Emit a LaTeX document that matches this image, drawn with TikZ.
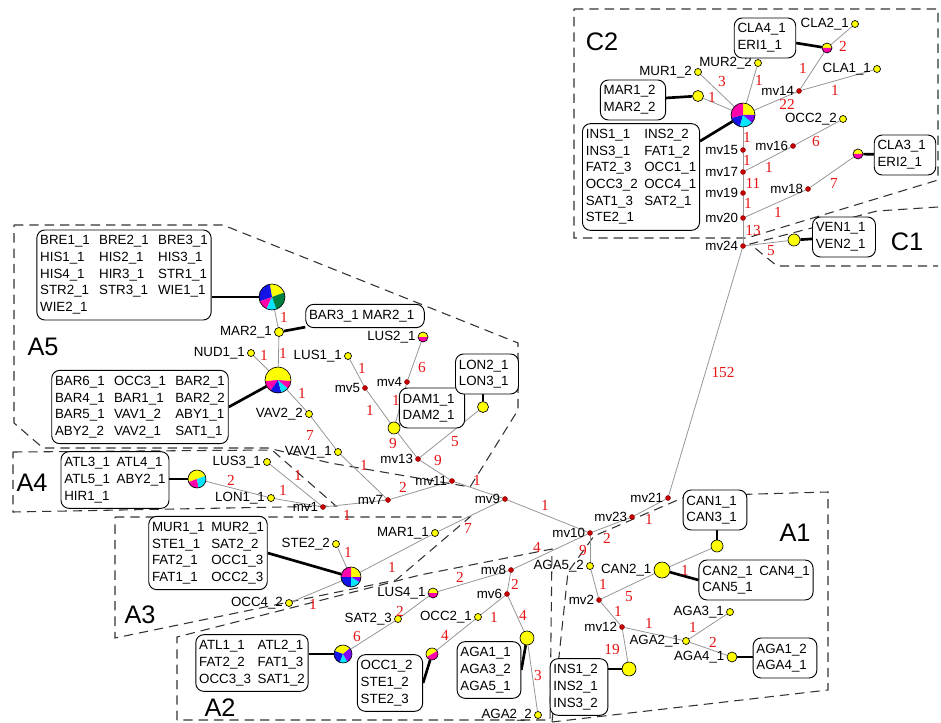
\documentclass[tikz,border=0pt]{standalone}
\usepackage{fontspec}
\setmainfont{Liberation Sans}
\newfontfamily\numfont{Liberation Serif}
\usetikzlibrary{backgrounds}
\definecolor{pyel}{RGB}{255,255,0}
\definecolor{ppink}{RGB}{255,0,170}
\definecolor{pcyan}{RGB}{0,230,255}
\definecolor{pblue}{RGB}{20,20,230}
\definecolor{ppurp}{RGB}{130,0,255}
\definecolor{pgreen}{RGB}{0,128,64}
\definecolor{mvred}{RGB}{200,0,0}
\definecolor{elabred}{RGB}{230,20,20}
\definecolor{edgegrey}{RGB}{150,150,150}
\definecolor{grpgrey}{RGB}{50,50,50}
\newcommand\piefill[3]{%
 \foreach \pc/\pa/\pb in {#3}{\fill[\pc] (#1.center) -- ++({-\pa}:#2) arc[start angle={-\pa}, end angle={-\pb}, radius=#2] -- cycle;}%
 \draw[line width=0.5pt] (#1.center) circle[radius=#2];}
\newcommand\bxA[1]{\begin{tabular}{@{}l@{\hspace{5pt}}l@{}}#1\end{tabular}}
\newcommand\bxB[1]{\begin{tabular}{@{}l@{\hspace{7pt}}l@{\hspace{7pt}}l@{}}#1\end{tabular}}
\tikzset{
 mv/.style={circle, fill=mvred, draw=mvred!60!black, line width=0.3pt, inner sep=0pt, minimum size=3.75pt},
 hap/.style={circle, fill=pyel, draw=black, line width=0.5pt, inner sep=0pt, minimum size=5.25pt},
 pienode/.style={circle, inner sep=0pt, minimum size=#1},
 lab/.style={font=\fontsize{10}{12}\selectfont, inner sep=1pt},
 elab/.style={font=\numfont\fontsize{11.5}{12}\selectfont, text=elabred, inner sep=0pt},
 hbox/.style={draw=black, line width=0.7pt, rounded corners=6pt, fill=white, inner sep=2.5pt, font=\fontsize{10}{12.5}\selectfont},
 ed/.style={draw=edgegrey, line width=0.6pt},
 conn/.style={draw=black, line width=2pt},
 grp/.style={draw=grpgrey, line width=0.8pt, dash pattern=on 7pt off 4.5pt},
 grplab/.style={font=\fontsize{19}{19}\selectfont, inner sep=0pt},
 label distance=0.5pt
}
\begin{document}
\begin{tikzpicture}[x=0.75pt,y=-0.75pt]
\useasboundingbox (0,0) rectangle (941,723);
% ---------- C2 / C1 ----------
\node[pienode=18pt] (c2pie) at (743,115) {};
\node[hap, label={[lab]left:MUR1\_2}] (mur12) at (698,72) {};
\node[hap, label={[lab]left:MUR2\_2}] (mur22) at (758,63) {};
\node[hap, minimum size=8.25pt] (marC) at (698,96) {};
\node[pienode=7.5pt] (claN) at (827,48) {};
\node[hap, label={[lab]left:CLA2\_1}] (cla21) at (855,24) {};
\node[hap, label={[lab]left:CLA1\_1}] (cla11) at (877,69) {};
\node[mv, label={[lab]left:mv14}] (mv14) at (799,91) {};
\node[hap, label={[lab]left:OCC2\_2}] (occ22) at (843,119) {};
\node[mv, label={[lab]left:mv16}] (mv16) at (793,146) {};
\node[mv, label={[lab]left:mv15}] (mv15) at (743,150) {};
\node[mv, label={[lab]left:mv17}] (mv17) at (743,172) {};
\node[mv, label={[lab]left:mv19}] (mv19) at (743,193) {};
\node[mv, label={[lab]left:mv20}] (mv20) at (743,218) {};
\node[mv, label={[lab]left:mv24}] (mv24) at (743,246) {};
\node[mv, label={[lab]left:mv18}] (mv18) at (808,189) {};
\node[pienode=7.5pt] (cla3N) at (858,154) {};
\node[hap, minimum size=9pt] (venN) at (794,240) {};
\node[hbox] (bMAR12) at (633,100) {\bxA{MAR1\_2\\MAR2\_2}};
\node[hbox] (bCLA4) at (765,38) {\bxA{CLA4\_1\\ERI1\_1}};
\node[hbox] (bINS1) at (641,177) {\bxA{INS1\_1 & INS2\_2\\INS3\_1 & FAT1\_2\\FAT2\_3 & OCC1\_1\\OCC3\_2 & OCC4\_1\\SAT1\_3 & SAT2\_1\\STE2\_1 &}};
\node[hbox] (bCLA3) at (905,155) {\bxA{CLA3\_1\\ERI2\_1}};
\node[hbox] (bVEN) at (844,237) {\bxA{VEN1\_1\\VEN2\_1}};
\node[grplab] (gC2) at (602,42) {C2};
\node[grplab] (gC1) at (907,242) {C1};
% ---------- A5 ----------
\node[pienode=19.5pt] (big1) at (272,297) {};
\node[hap, minimum size=6.75pt, label={[lab]left:MAR2\_1}] (mar21) at (279,332) {};
\node[hap, label={[lab]left:NUD1\_1}] (nud11) at (251,353) {};
\node[pienode=19.5pt] (big2) at (278,380) {};
\node[hap, label={[lab]left:LUS1\_1}] (lus11) at (348,356) {};
\node[hap, label={[lab]left:VAV2\_2}] (vav22) at (309,414) {};
\node[hap, label={[lab]left:VAV1\_1}] (vav11) at (338,452) {};
\node[mv, label={[lab]left:mv7}] (mv7) at (388,500) {};
\node[pienode=7.5pt, label={[lab]left:LUS2\_1}] (lus21) at (423,337) {};
\node[mv, label={[lab]left:mv4}] (mv4) at (407,382) {};
\node[mv, label={[lab]left:mv5}] (mv5) at (365,388) {};
\node[hap, minimum size=9pt] (damN) at (394,428) {};
\node[hap, minimum size=8.25pt] (lonN) at (483,407) {};
\node[mv, label={[lab]left:mv13}] (mv13) at (418,459) {};
\node[mv, label={[lab]left:mv11}] (mv11) at (452,481) {};
\node[mv, label={[lab]left:mv9}] (mv9) at (505,499) {};
\node[hbox] (bBRE) at (124,275) {\bxB{BRE1\_1 & BRE2\_1 & BRE3\_1\\HIS1\_1 & HIS2\_1 & HIS3\_1\\HIS4\_1 & HIR3\_1 & STR1\_1\\STR2\_1 & STR3\_1 & WIE1\_1\\WIE2\_1 & &}};
\node[hbox] (bBAR3) at (365,316) {\bxA{BAR3\_1 MAR2\_1}};
\node[hbox] (bBAR6) at (140,407) {\bxB{BAR6\_1 & OCC3\_1 & BAR2\_1\\BAR4\_1 & BAR1\_1 & BAR2\_2\\BAR5\_1 & VAV1\_2 & ABY1\_1\\ABY2\_2 & VAV2\_1 & SAT1\_1}};
\node[hbox] (bDAM) at (432,408) {\bxA{DAM1\_1\\DAM2\_1}};
\node[hbox] (bLON) at (487,374) {\bxA{LON2\_1\\LON3\_1}};
\node[grplab] (gA5) at (43,347) {A5};
% ---------- A4 ----------
\node[pienode=13.5pt] (a4pie) at (197,479) {};
\node[hap, label={[lab]left:LUS3\_1}] (lus31) at (267,462) {};
\node[hap, label={[lab]left:LON1\_1}] (lon11) at (271,498) {};
\node[mv, label={[lab]left:mv1}] (mv1) at (323,507) {};
\node[hbox] (bATL3) at (115,480) {\bxA{ATL3\_1 & ATL4\_1\\ATL5\_1 & ABY2\_1\\HIR1\_1 &}};
\node[grplab] (gA4) at (32,483) {A4};
% ---------- A3 ----------
\node[pienode=15pt] (a3pie) at (351,577) {};
\node[hap, label={[lab]left:STE2\_2}] (ste22) at (336,544) {};
\node[hap, label={[lab]left:MAR1\_1}] (mar11) at (435,533) {};
\node[hap, label={[lab]left:OCC4\_2}] (occ42) at (289,603) {};
\node[hbox] (bMUR11) at (208,553) {\bxA{MUR1\_1 & MUR2\_1\\STE1\_1 & SAT2\_2\\FAT2\_1 & OCC1\_3\\FAT1\_1 & OCC2\_3}};
\node[grplab] (gA3) at (140,615) {A3};
% ---------- A2 ----------
\node[mv, label={[lab]left:mv8}] (mv8) at (511,570) {};
\node[mv, label={[lab]left:mv10}] (mv10) at (590,533) {};
\node[pienode=7.5pt, label={[lab]left:LUS4\_1}] (lus41) at (433,593) {};
\node[hap, label={[lab]left:SAT2\_3}] (sat23) at (398,619) {};
\node[pienode=13.5pt] (a2pie) at (343,654) {};
\node[mv, label={[lab]left:mv6}] (mv6) at (507,594) {};
\node[hap, label={[lab]left:OCC2\_1}] (occ21) at (478,617) {};
\node[pienode=9pt] (occN) at (432,654) {};
\node[hap, minimum size=10.5pt] (agaN) at (527,638) {};
\node[hap, label={[lab]left:AGA2\_2}] (aga22) at (538,715) {};
\node[hbox] (bATL1) at (252,663) {\bxA{ATL1\_1 & ATL2\_1\\FAT2\_2 & FAT1\_3\\OCC3\_3 & SAT1\_2}};
\node[hbox] (bOCC12) at (390,683) {\bxA{OCC1\_2\\STE1\_2\\STE2\_3}};
\node[hbox] (bAGA11) at (489,670) {\bxA{AGA1\_1\\AGA3\_2\\AGA5\_1}};
\node[grplab] (gA2) at (220,708) {A2};
% ---------- A1 ----------
\node[mv, label={[lab]left:mv21}] (mv21) at (668,498) {};
\node[mv, label={[lab]left:mv23}] (mv23) at (632,517) {};
\node[hap, label={[lab]left:AGA5\_2}] (aga52) at (590,566) {};
\node[hap, minimum size=12pt, label={[lab]left:CAN2\_1}] (can2N) at (662,570) {};
\node[hap, minimum size=9pt] (canTopN) at (717,546) {};
\node[mv, label={[lab]left:mv2}] (mv2) at (599,600) {};
\node[mv, label={[lab]left:mv12}] (mv12) at (622,627) {};
\node[hap, label={[lab]left:AGA2\_1}] (aga21) at (686,641) {};
\node[hap, minimum size=10.5pt] (insN) at (629,669) {};
\node[hap, label={[lab]left:AGA3\_1}] (aga31) at (730,612) {};
\node[hap, minimum size=7.5pt, label={[lab]left:AGA4\_1}] (aga4N) at (732,657) {};
\node[hbox] (bCAN1) at (715,510) {\bxA{CAN1\_1\\CAN3\_1}};
\node[hbox] (bCAN2) at (756,580) {\bxA{CAN2\_1 & CAN4\_1\\CAN5\_1 &}};
\node[hbox] (bINS12) at (579,687) {\bxA{INS1\_2\\INS2\_1\\INS3\_2}};
\node[hbox] (bAGA12) at (785,658) {\bxA{AGA1\_2\\AGA4\_1}};
\node[grplab] (gA1) at (795,533) {A1};
% ---------- pies ----------
\piefill{c2pie}{12}{pyel/0/90, ppink/90/195, pblue/195/255, pcyan/255/320, ppurp/320/360}
\piefill{claN}{5}{pyel/0/180, ppink/180/360}
\piefill{cla3N}{5}{pyel/0/180, ppink/180/360}
\piefill{big1}{13}{pyel/20/100, pblue/100/200, ppink/200/245, pcyan/245/290, pgreen/290/380}
\piefill{big2}{13}{pyel/-5/185, ppink/185/235, pblue/235/285, pcyan/285/320, ppink/320/355}
\piefill{lus21}{5}{pyel/0/180, ppink/180/360}
\piefill{a4pie}{9}{pyel/20/200, ppink/200/280, pcyan/280/380}
\piefill{a3pie}{10}{pyel/0/90, ppink/90/180, pblue/180/270, pcyan/270/330, ppurp/330/360}
\piefill{lus41}{5}{pyel/0/180, ppink/180/360}
\piefill{a2pie}{9}{pyel/40/160, pblue/160/250, pcyan/250/300, ppurp/300/400}
\piefill{occN}{6}{pyel/30/210, ppink/210/390}
% ---------- edge labels ----------
\foreach \n/\x/\y/\t in {e1/843/46/2, e2/803/68/1, e3/835/90/1, e4/787/104/22, e5/722/82/3, e6/759/80/1, e7/712/97/1, e8/747/137/1, e9/747/160/1, e10/753/183/11, e11/748/203/1, e12/753/230/13, e13/816/142/6, e14/769/167/1, e15/834/183/7, e16/778/212/1, e17/771/251/5, e18/723/372/152,
 e19/284/317/1, e20/283/353/1, e21/264/355/1, e22/302/393/1, e23/310/435/7, e24/364/465/1, e25/422/367/6, e26/362/368/1, e27/370/410/1, e28/396/400/1, e29/393/443/9, e30/455/442/5, e31/438/460/9, e32/477/480/1, e33/403/487/2,
 e34/231/480/2, e35/283/490/1, e36/298/475/1, e37/347/515/1,
 e38/348/552/1, e39/392/567/1, e40/468/528/7, e41/313/604/1,
 e42/537/547/4, e43/545/505/1, e44/460/577/2, e45/400/611/2, e46/357/636/6, e47/515/584/2, e48/494/617/1, e49/445/635/4, e50/523/615/4, e51/538/675/3,
 e52/649/519/1, e53/607/538/2, e54/583/550/9, e55/685/570/1, e56/603/584/1, e57/629/597/5, e58/618/611/1, e59/649/623/1, e60/612/649/19, e61/693/627/1, e62/713/642/2}
 \node[elab] (\n) at (\x,\y) {\t};
% ---------- background: groups, edges, connectors ----------
\begin{pgfonlayer}{background}
\draw[grp] (574,9) -- (938,9) -- (938,180) -- (747,238) -- (574,238) -- cycle;
\draw[grp] (938,207) -- (877,211) -- (750,244) -- (777,266) -- (938,266);
\draw[grp] (14,225) -- (223,225) -- (518,343) -- (518,410) -- (470,487) -- (330,463) -- (268,448) -- (43,448) -- (14,423) -- cycle;
\draw[grp] (13,452) -- (272,450) -- (336,506) -- (13,512) -- cycle;
\draw[grp] (115,517) -- (470,517) -- (396,580) -- (115,638) -- cycle;
\draw[grp] (177,720) -- (177,637) -- (420,575) -- (552,549) -- (550,720) -- cycle;
\draw[grp] (552,722) -- (568,572) -- (594,536) -- (687,496) -- (828,492) -- (828,690) -- cycle;
\foreach \u/\v in {c2pie/mur12, c2pie/mur22, c2pie/marC, c2pie/mv14, mv14/claN, claN/cla21, mv14/cla11, c2pie/mv15, mv15/mv17, mv17/mv19, mv19/mv20, mv20/mv24, mv17/mv16, mv16/occ22, mv20/mv18, mv18/cla3N, mv24/venN, mv24/mv21,
 mv21/mv23, mv23/mv10, mv10/mv9, mv10/mv8, mv10/aga52, aga52/mv2, mv2/can2N, can2N/canTopN, mv2/mv12, mv12/insN, mv12/aga21, aga21/aga31, aga21/aga4N,
 mv8/mv6, mv8/lus41, lus41/sat23, sat23/a2pie, mv6/occ21, occ21/occN, mv6/agaN, agaN/aga22,
 mv9/mv11, mv11/mv7, mv11/mv13, mv13/damN, mv13/lonN, damN/mv5, mv5/lus11, damN/mv4, mv4/lus21,
 mv7/mv1, mv7/vav11, vav11/vav22, vav22/big2, big2/nud11, big2/mar21, mar21/big1,
 mv1/lus31, mv1/lon11, lon11/a4pie, mv9/mar11, mar11/a3pie, a3pie/ste22, a3pie/occ42}
 \draw[ed] (\u) -- (\v);
\draw[conn] (c2pie) -- (bINS1);
\draw[conn] (marC) -- (bMAR12);
\draw[conn] (claN) -- (bCLA4);
\draw[conn] (cla3N) -- (bCLA3);
\draw[conn] (venN) -- (bVEN);
\draw[conn] (big1) -- (big1 -| bBRE.east);
\draw[conn] (mar21) -- (bBAR3);
\draw[conn] (big2) -- (bBAR6.east);
\draw[conn] (damN) -- (bDAM);
\draw[conn] (lonN) -- (lonN |- bLON.south);
\draw[conn] (a4pie) -- (a4pie -| bATL3.east);
\draw[conn] (a3pie) -- (bMUR11.east);
\draw[conn] (a2pie) -- (a2pie -| bATL1.east);
\draw[conn] (occN) -- (bOCC12.east);
\draw[conn] (agaN) -- (bAGA11.east);
\draw[conn] (canTopN) -- (canTopN |- bCAN1.south);
\draw[conn] (can2N) -- (bCAN2.west);
\draw[conn] (insN) -- (insN -| bINS12.east);
\draw[conn] (aga4N) -- (aga4N -| bAGA12.west);
\end{pgfonlayer}
\end{tikzpicture}
\end{document}
